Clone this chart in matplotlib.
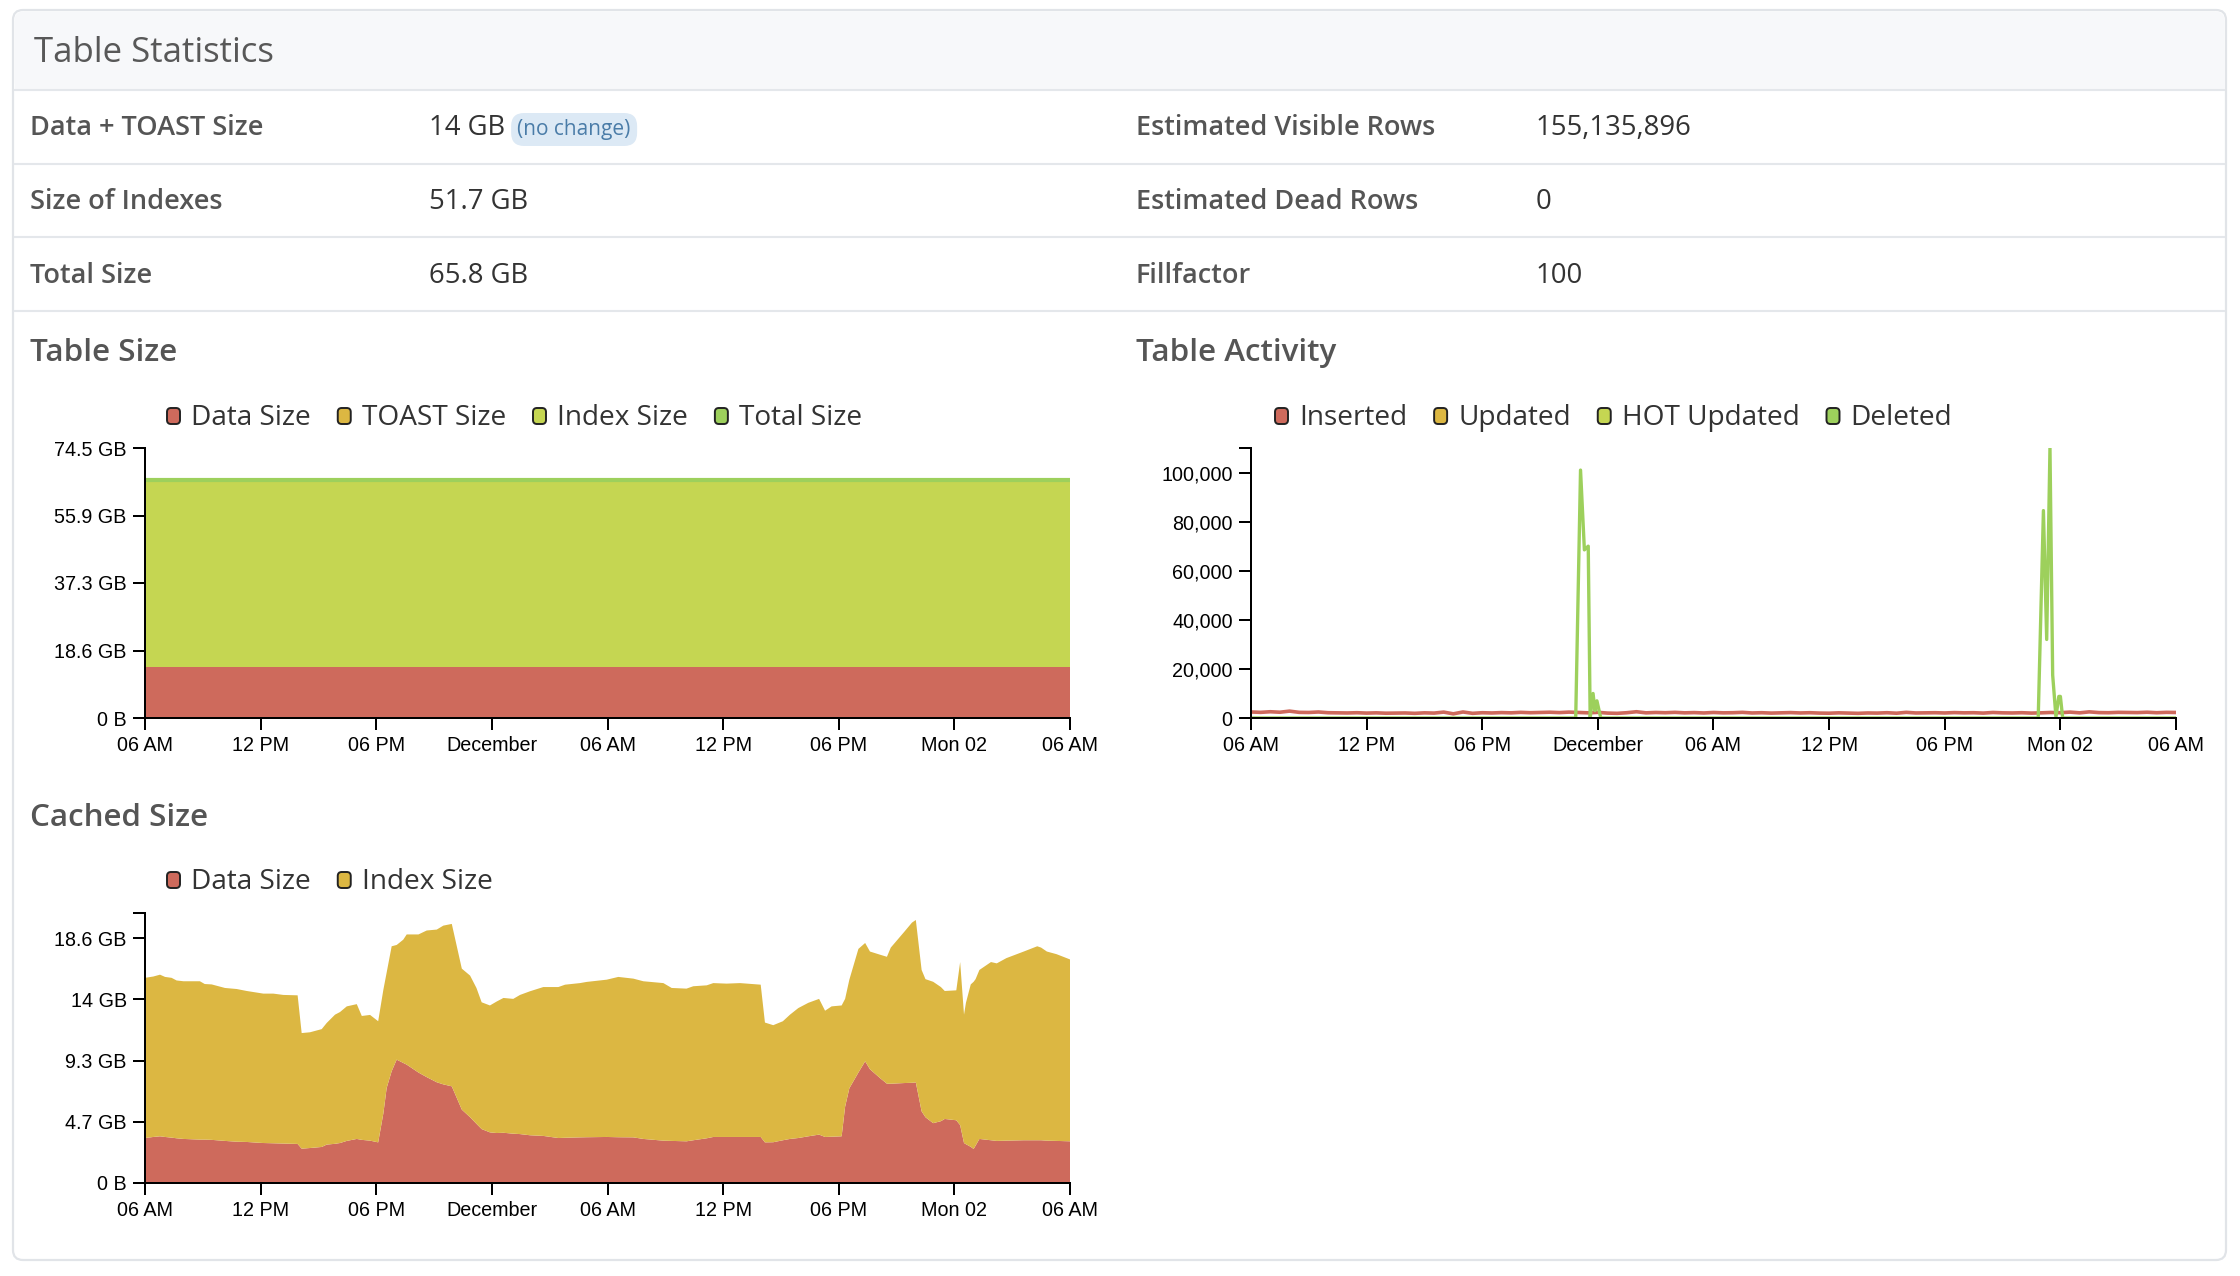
import numpy as np
import matplotlib.pyplot as plt
from matplotlib.patches import FancyBboxPatch, Rectangle

plt.rcParams['font.family'] = ['Open Sans', 'DejaVu Sans']

W, H = 2240, 1276

# colours
RED = '#ce6a5c'
YELLOW = '#dcb742'
LIME = '#c5d652'
GREEN = '#9dd05c'

# ---- statistics table ----
left_labels = ["Data + TOAST Size", "Size of Indexes", "Total Size"]
left_values = ["14 GB", "51.7 GB", "65.8 GB"]
right_labels = ["Estimated Visible Rows", "Estimated Dead Rows", "Fillfactor"]
right_values = ["155,135,896", "0", "100"]

# ---- x axis (hours since Sat 06 AM) ----
tick_hours = [0, 6, 12, 18, 24, 30, 36, 42, 48]
tick_labels = ["06 AM", "12 PM", "06 PM", "December", "06 AM",
               "12 PM", "06 PM", "Mon 02", "06 AM"]

# ---- table size (GB) ----
size_names = ["Data Size", "TOAST Size", "Index Size", "Total Size"]
size_hours = [0, 48]
size_data = [14.1, 14.1]
size_toast = [0.0, 0.0]
size_index = [51.7, 51.7]
size_total = [65.8, 65.8]
size_ytick_labels = ["0 B", "18.6 GB", "37.3 GB", "55.9 GB", "74.5 GB"]

# ---- table activity ----
act_names = ["Inserted", "Updated", "HOT Updated", "Deleted"]
inserted_hours = np.arange(0, 48.5, 0.5)
inserted = [
    2450, 2300, 2550, 2350, 2800, 2300, 2250, 2450, 2150, 2100, 2050, 2150,
    2000, 2100, 1950, 2000, 2050, 1900, 2100, 2000, 2400, 1700, 2450, 1900,
    2150, 2050, 2200, 2100, 2300, 2150, 2250, 2350, 2200, 2400, 2250, 2100,
    2300, 2000, 1900, 2150, 2550, 2100, 2250, 2150, 2300, 2100, 2200, 2050,
    2250, 2100, 2150, 2300, 2050, 2150, 2000, 2100, 2200, 2050, 2150, 2000,
    1950, 2100, 2000, 1900, 2050, 2000, 2150, 1950, 2300, 2050, 2100, 2150,
    2050, 2200, 2100, 2150, 2000, 2250, 2100, 2050, 2150, 2000, 2100, 2250,
    2150, 2400, 2100, 2500, 2200, 2150, 2300, 2250, 2200, 2350, 2150, 2300,
    2250]
updated_hours = [0, 48]
updated = [0, 0]
hot_updated = [0, 0]
deleted_hours = [0, 16.85, 17.1, 17.3, 17.5, 17.6, 17.75, 17.85, 17.95, 18.15,
                 40.85, 41.12, 41.29, 41.46, 41.6, 41.77, 41.92, 42.0, 42.12, 48]
deleted = [0, 0, 101000, 68500, 70000, 0, 10000, 3000, 7000, 0,
           0, 84500, 32000, 110000, 17500, 500, 8800, 8800, 0, 0]
act_yticks = [0, 20000, 40000, 60000, 80000, 100000]

# ---- cached size (GB) ----
cached_names = ["Data Size", "Index Size"]
cached_hours = [
    0.0, 0.43, 0.78, 1.04, 1.38, 1.64, 2.0, 2.85, 3.1, 3.46,
    4.15, 4.76, 5.28, 6.14, 6.66, 7.18, 7.92, 8.13, 8.56, 9.17,
    9.43, 9.86, 10.12, 10.47, 10.99, 11.25, 11.68, 12.1, 12.37, 12.54,
    12.8, 13.06, 13.4, 13.58, 14.19, 14.62, 15.14, 15.48, 15.92, 16.44,
    16.87, 17.2, 17.47, 17.9, 18.25, 18.6, 19.11, 19.46, 19.98, 20.67,
    21.45, 21.8, 22.57, 22.92, 23.96, 24.56, 25.34, 25.86, 26.9, 27.33,
    28.1, 28.45, 29.15, 29.49, 30.18, 30.88, 31.95, 32.17, 32.6, 33.1,
    33.47, 33.9, 34.42, 34.98, 35.29, 35.63, 36.15, 36.33, 36.55, 37.02,
    37.37, 37.62, 38.14, 38.5, 38.7, 39.4, 39.8, 40.0, 40.3, 40.5,
    40.9, 41.3, 41.5, 42.1, 42.3, 42.5, 42.6, 42.85, 43.0, 43.1,
    43.3, 43.9, 44.2, 44.7, 45.6, 46.3, 46.5, 46.8, 47.3, 48.0]
cached_data = [
    3.42, 3.50, 3.55, 3.50, 3.45, 3.40, 3.35, 3.30, 3.30, 3.28,
    3.20, 3.14, 3.12, 3.04, 3.02, 3.00, 2.97, 2.61, 2.66, 2.74,
    2.92, 2.98, 3.04, 3.20, 3.35, 3.28, 3.22, 3.09, 5.30, 7.22,
    8.50, 9.38, 9.13, 9.00, 8.40, 8.05, 7.66, 7.50, 7.35, 5.58,
    5.00, 4.50, 4.10, 3.85, 3.80, 3.82, 3.75, 3.72, 3.63, 3.58,
    3.42, 3.44, 3.47, 3.48, 3.50, 3.48, 3.47, 3.35, 3.22, 3.20,
    3.17, 3.25, 3.40, 3.50, 3.50, 3.50, 3.50, 3.09, 3.10, 3.25,
    3.35, 3.42, 3.55, 3.68, 3.50, 3.52, 3.55, 5.80, 7.20, 8.40,
    9.25, 8.65, 7.98, 7.55, 7.55, 7.60, 7.62, 7.65, 5.45, 5.00,
    4.55, 4.70, 4.87, 4.77, 4.40, 3.04, 2.95, 2.75, 2.59, 2.84,
    3.35, 3.25, 3.20, 3.22, 3.25, 3.25, 3.25, 3.22, 3.20, 3.17]
cached_index = [
    12.18, 12.20, 12.29, 12.17, 12.15, 12.00, 11.99, 12.04, 11.83, 11.82,
    11.63, 11.61, 11.48, 11.36, 11.38, 11.30, 11.30, 8.79, 8.80, 8.96,
    9.25, 9.82, 9.96, 10.23, 10.25, 9.42, 9.56, 9.21, 9.40, 8.78,
    9.50, 8.72, 9.37, 9.90, 10.50, 11.15, 11.61, 12.07, 12.35, 10.72,
    10.77, 10.33, 9.64, 9.65, 10.00, 10.25, 10.25, 10.58, 10.95, 11.32,
    11.48, 11.64, 11.73, 11.81, 11.96, 12.19, 12.07, 11.99, 11.98, 11.63,
    11.61, 11.71, 11.63, 11.70, 11.66, 11.70, 11.58, 9.11, 8.90, 9.05,
    9.45, 9.88, 10.15, 10.32, 9.60, 9.91, 9.95, 8.20, 8.26, 9.40,
    9.00, 8.95, 9.38, 9.65, 10.35, 11.50, 12.18, 12.35, 10.75, 10.50,
    10.75, 10.20, 9.73, 9.88, 12.40, 9.76, 10.75, 12.35, 12.71, 12.66,
    12.85, 13.55, 13.50, 13.88, 14.35, 14.75, 14.65, 14.38, 14.20, 13.83]
cached_ytick_labels = ["0 B", "4.7 GB", "9.3 GB", "14 GB", "18.6 GB"]

GIB = 2 ** 30

fig = plt.figure(figsize=(W / 100, H / 100), dpi=100)
renderer = fig.canvas.get_renderer()

# page layer in pixel coordinates
bg = fig.add_axes([0, 0, 1, 1], zorder=0)
bg.set_xlim(0, W)
bg.set_ylim(H, 0)
bg.axis('off')

bg.add_patch(FancyBboxPatch((13, 10), 2213, 1250, boxstyle="round,pad=0,rounding_size=10",
                            fc='white', ec='#e1e4e8', lw=1.6))
bg.add_patch(FancyBboxPatch((14.5, 11.5), 2210, 78, boxstyle="round,pad=0,rounding_size=9",
                            fc='#f7f8fa', ec='none'))
bg.add_patch(Rectangle((14.5, 50), 2210, 40, fc='#f7f8fa', ec='none'))
for y in [90, 164, 237, 311]:
    bg.plot([14, 2225], [y, y], color='#e4e7eb', lw=1.5, solid_capstyle='butt')

bg.text(34, 62, "Table Statistics", fontsize=25, color='#585858')

baselines = [135, 209, 283]
value_texts = []
for b, lab, val in zip(baselines, left_labels, left_values):
    bg.text(30, b, lab, fontsize=19.5, fontweight='semibold', color='#555555')
    value_texts.append(bg.text(429, b, val, fontsize=19.8, color='#333333'))
for b, lab, val in zip(baselines, right_labels, right_values):
    bg.text(1136, b, lab, fontsize=19.5, fontweight='semibold', color='#555555')
    bg.text(1536, b, val, fontsize=19.8, color='#333333')

# "(no change)" pill next to first value
vx1 = value_texts[0].get_window_extent(renderer).x1
bg.add_patch(FancyBboxPatch((vx1 + 6, 113), 126, 33, boxstyle="round,pad=0,rounding_size=13",
                            fc='#dce9f5', ec='none'))
bg.text(vx1 + 6 + 63, 130, "(no change)", fontsize=15, color='#4a7ca8',
        ha='center', va='center')

bg.text(30, 361, "Table Size", fontsize=22.6, fontweight='semibold', color='#555555')
bg.text(1136, 361, "Table Activity", fontsize=22.6, fontweight='semibold', color='#555555')
bg.text(30, 826, "Cached Size", fontsize=22.6, fontweight='semibold', color='#555555')


def legend(x, baseline, names, colors):
    for name, col in zip(names, colors):
        bg.add_patch(FancyBboxPatch((x + 1, baseline - 17), 13, 16,
                                    boxstyle="round,pad=0,rounding_size=4",
                                    fc=col, ec='#222222', lw=1.4))
        t = bg.text(x + 25, baseline, name, fontsize=20.2, color='#333333')
        bb = t.get_window_extent(renderer)
        x = bb.x1 + 26


legend(166, 425, size_names, [RED, YELLOW, LIME, GREEN])
legend(1274, 425, act_names, [RED, YELLOW, LIME, GREEN])
legend(166, 889, cached_names, [RED, YELLOW])


def chart_axes(left, top, right, bottom):
    ax = fig.add_axes([left / W, 1 - bottom / H, (right - left) / W, (bottom - top) / H],
                      zorder=1)
    ax.patch.set_alpha(0)
    for s in ['top', 'right']:
        ax.spines[s].set_visible(False)
    for s in ['left', 'bottom']:
        ax.spines[s].set_linewidth(1.44)
        ax.spines[s].set_color('black')
    ax.tick_params(direction='out', length=8.64, width=1.44, pad=4.5, colors='black')
    ax.set_xlim(0, 48)
    ax.set_xticks(tick_hours)
    ax.set_xticklabels(tick_labels, fontfamily='Liberation Sans', fontsize=14.2)
    return ax


def set_yticks(ax, ticks, labels, top):
    ax.set_ylim(0, top)
    ax.set_yticks(list(ticks) + [top])
    ax.set_yticklabels(list(labels) + [""], fontfamily='Liberation Sans', fontsize=14.2)


# Table Size
ax1 = chart_axes(145, 448, 1070, 718)
ax1.stackplot(size_hours, size_data, size_toast, size_index,
              colors=[RED, YELLOW, LIME], linewidth=0)
ax1.plot(size_hours, size_total, color=GREEN, lw=3.0, solid_capstyle='butt')
size_ticks = [k * 20e9 / GIB for k in range(5)]
ax1.set_ylim(0, size_ticks[-1])
ax1.set_yticks(size_ticks)
ax1.set_yticklabels(size_ytick_labels, fontfamily='Liberation Sans', fontsize=14.2)

# Table Activity
ax2 = chart_axes(1251, 448, 2176, 718)
ax2.plot(inserted_hours, inserted, color=RED, lw=2.6, solid_joinstyle='round')
ax2.plot(updated_hours, updated, color=YELLOW, lw=2.2)
ax2.plot(updated_hours, hot_updated, color=LIME, lw=2.2)
ax2.plot(deleted_hours, deleted, color=GREEN, lw=2.4, solid_joinstyle='round')
set_yticks(ax2, act_yticks, [f"{v:,}" for v in act_yticks], 110000)

# Cached Size
ax3 = chart_axes(145, 913, 1070, 1183)
ax3.stackplot(cached_hours, cached_data, cached_index, colors=[RED, YELLOW], linewidth=0)
cached_ticks = [k * 5e9 / GIB for k in range(5)]
set_yticks(ax3, cached_ticks, cached_ytick_labels, 20.53)

fig.savefig("out.png", dpi=100, facecolor='white')
